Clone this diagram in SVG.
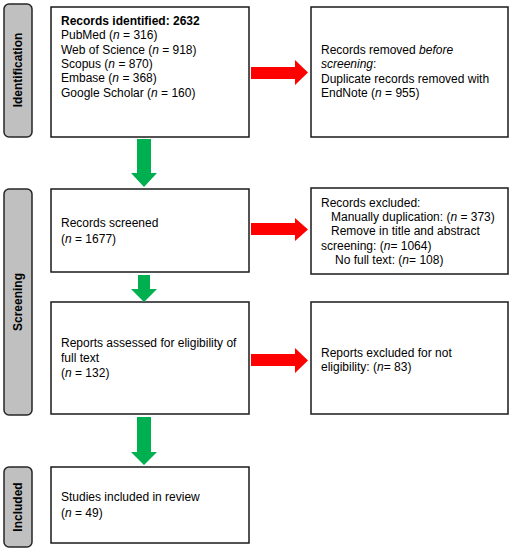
<svg xmlns="http://www.w3.org/2000/svg" width="512" height="550" viewBox="0 0 512 550">
<style>
  .box{fill:#fff;stroke:#1a1a1a;stroke-width:1.5}
  .bar{fill:#c0c0c0;stroke:#262626;stroke-width:1.5}
  .t{font-family:"Liberation Sans",Arial,sans-serif;font-size:12px;fill:#000}
  .b{font-weight:bold}
  .lab{font-family:"Liberation Sans",Arial,sans-serif;font-size:12px;font-weight:bold;fill:#000;text-anchor:middle}
  .g{fill:#00b050}
  .r{fill:#ff0000}
</style>
<rect width="512" height="550" fill="#fff"/>
<g id="bar-identification">
  <rect class="bar" x="4" y="4" width="28" height="133" rx="5"/>
  <text class="lab" transform="translate(22,70) rotate(-90)">Identification</text>
</g>
<g id="bar-screening">
  <rect class="bar" x="4" y="189" width="28" height="226" rx="5"/>
  <text class="lab" transform="translate(22,302) rotate(-90)">Screening</text>
</g>
<g id="bar-included">
  <rect class="bar" x="4" y="467" width="28" height="80" rx="5"/>
  <text class="lab" transform="translate(22,507) rotate(-90)">Included</text>
</g>
<g id="node-identified">
  <rect class="box" x="51" y="7" width="198" height="130"/>
  <text class="t" x="61" y="25"><tspan class="b">Records identified: 2632</tspan>
    <tspan x="61" dy="14.3">PubMed (<tspan font-style="italic">n</tspan> = 316)</tspan>
    <tspan x="61" dy="14.3">Web of Science (<tspan font-style="italic">n</tspan> = 918)</tspan>
    <tspan x="61" dy="14.3">Scopus (<tspan font-style="italic">n</tspan> = 870)</tspan>
    <tspan x="61" dy="14.3">Embase (<tspan font-style="italic">n</tspan> = 368)</tspan>
    <tspan x="61" dy="14.3">Google Scholar (<tspan font-style="italic">n</tspan> = 160)</tspan>
  </text>
</g>
<g id="node-removed">
  <rect class="box" x="311" y="7" width="197" height="130"/>
  <text class="t" x="321" y="54">Records removed <tspan font-style="italic">before</tspan>
    <tspan x="321" dy="14.3"><tspan font-style="italic">screening</tspan>:</tspan>
    <tspan x="321" dy="14.3">Duplicate records removed with</tspan>
    <tspan x="321" dy="14.3">EndNote (<tspan font-style="italic">n</tspan> = 955)</tspan>
  </text>
</g>
<g id="node-screened">
  <rect class="box" x="51" y="189" width="198" height="83"/>
  <text class="t" x="61" y="227">Records screened
    <tspan x="61" dy="16">(<tspan font-style="italic">n</tspan> = 1677)</tspan>
  </text>
</g>
<g id="node-excluded">
  <rect class="box" x="311" y="188" width="197" height="86"/>
  <text class="t" x="321" y="207">Records excluded:
    <tspan x="331" dy="14.2">Manually duplication: (<tspan font-style="italic">n</tspan> = 373)</tspan>
    <tspan x="331" dy="14.2">Remove in title and abstract</tspan>
    <tspan x="321" dy="14.2">screening: (<tspan font-style="italic">n</tspan>= 1064)</tspan>
    <tspan x="335" dy="14.2">No full text: (<tspan font-style="italic">n</tspan>= 108)</tspan>
  </text>
</g>
<g id="node-assessed">
  <rect class="box" x="51" y="302" width="198" height="112"/>
  <text class="t" x="61" y="347">Reports assessed for eligibility of
    <tspan x="61" dy="14.8">full text</tspan>
    <tspan x="61" dy="14.8">(<tspan font-style="italic">n</tspan> = 132)</tspan>
  </text>
</g>
<g id="node-notelig">
  <rect class="box" x="311" y="302" width="197" height="112"/>
  <text class="t" x="321" y="357">Reports excluded for not
    <tspan x="321" dy="14.3">eligibility: (<tspan font-style="italic">n</tspan>= 83)</tspan>
  </text>
</g>
<g id="node-included">
  <rect class="box" x="51" y="467" width="198" height="76"/>
  <text class="t" x="61" y="501">Studies included in review
    <tspan x="61" dy="16">(<tspan font-style="italic">n</tspan> = 49)</tspan>
  </text>
</g>
<g id="connectors">
  <polygon class="g" points="137,139 151,139 151,173 157,173 144,187 131,173 137,173"/>
  <polygon class="g" points="138,275 150,275 150,289 157,289 144,302 131,289 138,289"/>
  <polygon class="g" points="137,417 151,417 151,452 157,452 144,465 131,452 137,452"/>
  <polygon class="r" points="251,67 295,67 295,60 308,72.5 295,85 295,79 251,79"/>
  <polygon class="r" points="251,223 295,223 295,218 308,229.5 295,241 295,235 251,235"/>
  <polygon class="r" points="251,354 295,354 295,348 308,360.5 295,373 295,366 251,366"/>
</g>
</svg>
